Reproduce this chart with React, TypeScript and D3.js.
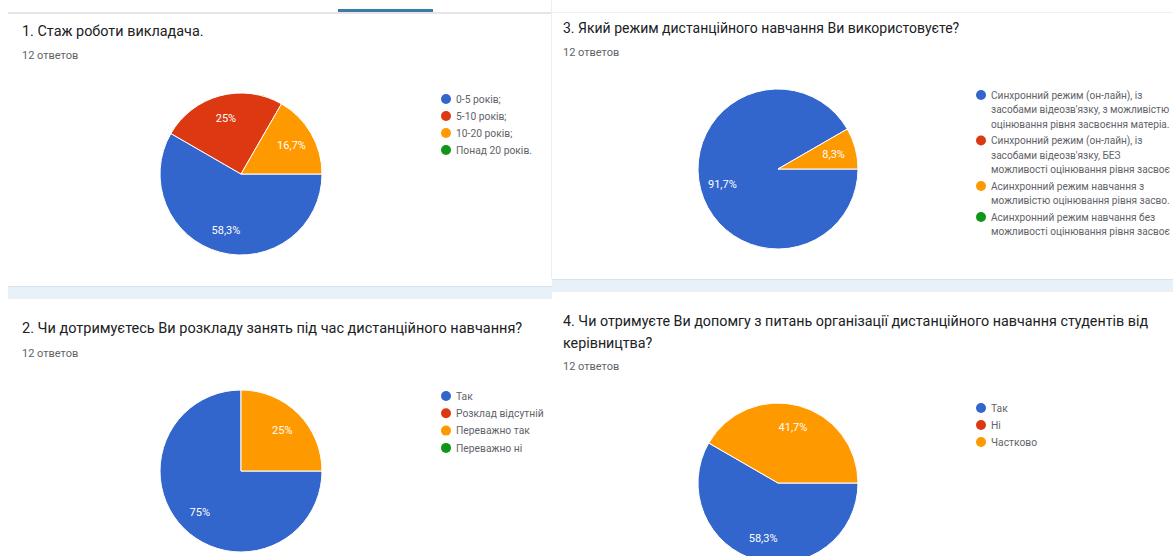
import React, { useLayoutEffect, useRef } from "react";
import * as d3 from "d3";

// ---- data ----
const q1Title = "1. Стаж роботи викладача.";
const q1Labels = ["0-5 років;", "5-10 років;", "10-20 років;", "Понад 20 років."];
const q1Values = [7, 3, 2, 0];

const q2Title = "2. Чи дотримуєтесь Ви розкладу занять під час дистанційного навчання?";
const q2Labels = ["Так", "Розклад відсутній", "Переважно так", "Переважно ні"];
const q2Values = [9, 0, 3, 0];

const q3Title = "3. Який режим дистанційного навчання Ви використовуєте?";
const q3Labels = [
  ["Синхронний режим (он-лайн), із", "засобами відеозв'язку, з можливістю", "оцінювання рівня засвоєння матеріа."],
  ["Синхронний режим (он-лайн), із", "засобами відеозв'язку, БЕЗ", "можливості оцінювання рівня засвоє"],
  ["Асинхронний режим навчання з", "можливістю оцінювання рівня засво."],
  ["Асинхронний режим навчання без", "можливості оцінювання рівня засвоє"],
];
const q3Values = [11, 0, 1, 0];

const q4Title = [
  "4. Чи отримуєте Ви допомгу з питань організації дистанційного навчання студентів від",
  "керівництва?",
];
const q4Labels = ["Так", "Ні", "Частково"];
const q4Values = [7, 0, 5];

const responsesText = "12 ответов";
const colors = ["#3366cc", "#dc3912", "#ff9900", "#109618"];

const FONT = "Roboto, 'Noto Sans', Arial, sans-serif";

function fmtPct(v: number, total: number) {
  const p = (v / total) * 100;
  const s = d3.format(".1f")(p).replace(/\.0$/, "").replace(".", ",");
  return s + "%";
}

type PieProps = { cx: number; cy: number; r: number; values: number[] };

function Pie({ cx, cy, r, values }: PieProps) {
  const total = d3.sum(values);
  const pie = d3
    .pie<number>()
    .sort(null)
    .value((d) => d)
    .startAngle(Math.PI / 2)
    .endAngle(Math.PI / 2 + 2 * Math.PI);
  const arcs = pie(values);
  const arc = d3.arc<d3.PieArcDatum<number>>().innerRadius(0).outerRadius(r);
  const labelArc = d3
    .arc<d3.PieArcDatum<number>>()
    .innerRadius(r * 0.72)
    .outerRadius(r * 0.72);
  return (
    <g transform={`translate(${cx},${cy})`}>
      {arcs.map((a, i) =>
        a.value > 0 ? (
          <path key={i} d={arc(a) || ""} fill={colors[i]} stroke="#ffffff" strokeWidth={1} />
        ) : null
      )}
      {arcs.map((a, i) => {
        if (a.value <= 0) return null;
        const [x, y] = labelArc.centroid(a);
        return (
          <text
            key={"l" + i}
            x={x}
            y={y}
            dy="0.35em"
            textAnchor="middle"
            fill="#ffffff"
            fontSize={11}
            fontFamily={FONT}
          >
            {fmtPct(a.value, total)}
          </text>
        );
      })}
    </g>
  );
}

type LegendProps = {
  x: number;
  y: number;
  items: string[][];
  lineH: number;
  gap: number;
  fontSize?: number;
  maxWidth?: number;
};

function Legend({ x, y, items, lineH, gap, fontSize = 10.3, maxWidth }: LegendProps) {
  const gRef = useRef<SVGGElement>(null);
  useLayoutEffect(() => {
    if (!maxWidth || !gRef.current) return;
    d3.select(gRef.current)
      .selectAll<SVGTextElement, unknown>("text")
      .each(function () {
        const w = this.getComputedTextLength();
        if (w > maxWidth) {
          this.setAttribute("textLength", String(maxWidth));
          this.setAttribute("lengthAdjust", "spacingAndGlyphs");
        }
      });
  });
  let cur = y;
  const rows: React.ReactNode[] = [];
  items.forEach((lines, i) => {
    rows.push(
      <g key={i}>
        <circle cx={x} cy={cur} r={5} fill={colors[i]} />
        {lines.map((ln, j) => (
          <text
            key={j}
            x={x + 10}
            y={cur + j * lineH}
            dy="0.35em"
            fontSize={fontSize}
            fill="#5f6368"
            fontFamily={FONT}
          >
            {ln}
          </text>
        ))}
      </g>
    );
    cur += (lines.length - 1) * lineH + gap;
  });
  return <g ref={gRef}>{rows}</g>;
}

export default function App() {
  const W = 1173;
  const H = 556;
  return (
    <svg
      width={W}
      height={H}
      viewBox={`0 0 ${W} ${H}`}
      style={{ position: "absolute", left: 0, top: 0, background: "#ffffff" }}
    >
      <rect x={0} y={0} width={W} height={H} fill="#ffffff" />
      {/* panel frames */}
      <rect x={8} y={12} width={544} height={2} fill="#e3e5e8" />
      <rect x={338} y={9} width={95} height={3} fill="#3a7ca5" />
      <rect x={552} y={12} width={621} height={1} fill="#f0f1f3" />
      <rect x={551} y={0} width={1} height={279} fill="#eceef1" />
      <rect x={8} y={286} width={544} height={13} fill="#e8f0f8" />
      <rect x={8} y={286} width={544} height={1} fill="#d9e3ee" />
      <rect x={552} y={279} width={621} height={13} fill="#e8f0f8" />
      <rect x={552} y={279} width={621} height={1} fill="#d9e3ee" />

      {/* panel 1 */}
      <text x={22} y={36} fontSize={14.4} fill="#202124" fontFamily={FONT}>
        {q1Title}
      </text>
      <text x={22} y={59} fontSize={11} fill="#5f6368" fontFamily={FONT}>
        {responsesText}
      </text>
      <Pie cx={241} cy={174} r={81} values={q1Values} />
      <Legend x={446} y={99} items={q1Labels.map((s) => [s])} lineH={14.3} gap={17} />

      {/* panel 3 */}
      <text x={563} y={33} fontSize={14} fill="#202124" fontFamily={FONT}>
        {q3Title}
      </text>
      <text x={563} y={56} fontSize={11} fill="#5f6368" fontFamily={FONT}>
        {responsesText}
      </text>
      <Pie cx={778} cy={169} r={80} values={q3Values} />
      <Legend
        x={981}
        y={95}
        items={q3Labels}
        lineH={14.5}
        gap={16.5}
        fontSize={10.1}
        maxWidth={179}
      />

      {/* panel 2 */}
      <text x={22} y={333} fontSize={14.5} fill="#202124" fontFamily={FONT}>
        {q2Title}
      </text>
      <text x={22} y={357} fontSize={11} fill="#5f6368" fontFamily={FONT}>
        {responsesText}
      </text>
      <Pie cx={241} cy={471} r={81} values={q2Values} />
      <Legend x={446} y={396} items={q2Labels.map((s) => [s])} lineH={14.3} gap={17.3} />

      {/* panel 4 */}
      {q4Title.map((t, i) => (
        <text key={i} x={563} y={326 + i * 22} fontSize={14.3} fill="#202124" fontFamily={FONT}>
          {t}
        </text>
      ))}
      <text x={563} y={370} fontSize={11} fill="#5f6368" fontFamily={FONT}>
        {responsesText}
      </text>
      <Pie cx={778} cy={483} r={80} values={q4Values} />
      <Legend x={981} y={408} items={q4Labels.map((s) => [s])} lineH={14.3} gap={17} />
    </svg>
  );
}
